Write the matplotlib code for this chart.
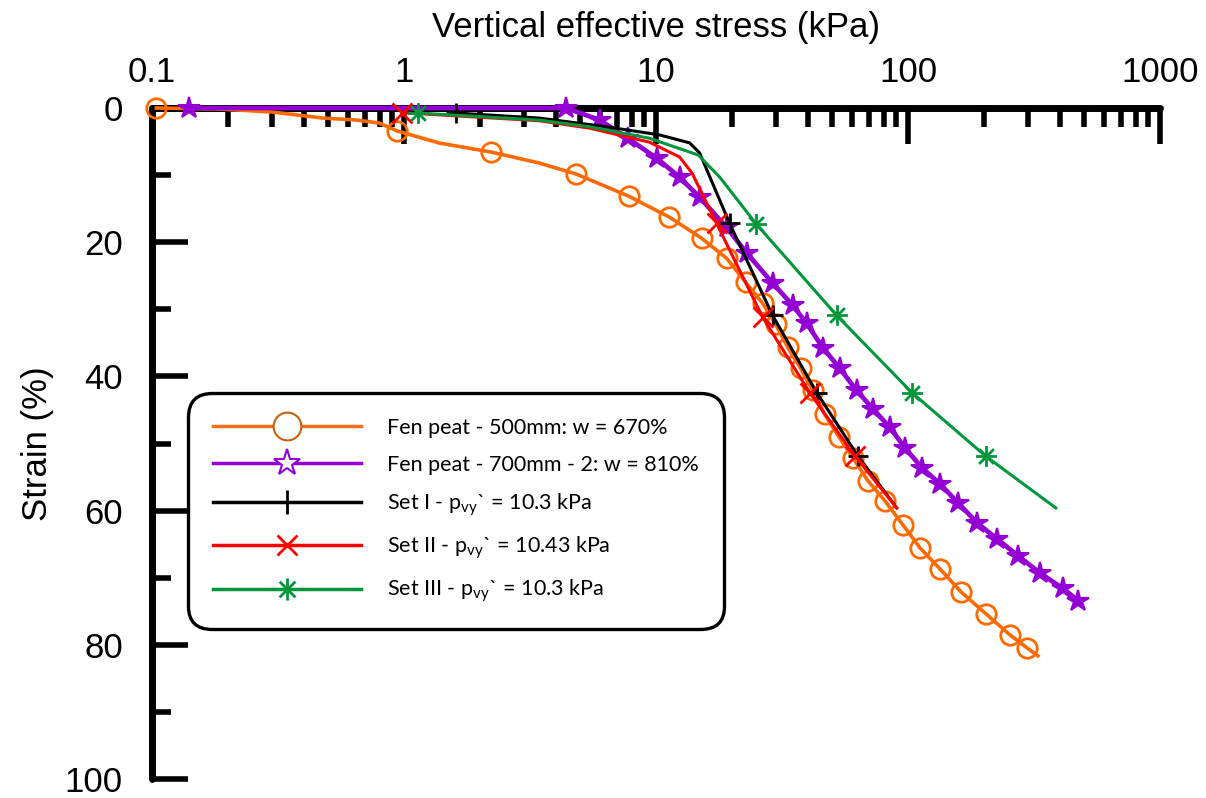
import matplotlib
matplotlib.use("Agg")
import matplotlib.pyplot as plt
from matplotlib.lines import Line2D
from matplotlib.path import Path
from matplotlib.ticker import FixedLocator, NullFormatter

plt.rcParams['font.family'] = ['Liberation Sans', 'DejaVu Sans']
plt.rcParams['mathtext.fontset'] = 'custom'
plt.rcParams['mathtext.rm'] = 'Lato'
plt.rcParams['mathtext.it'] = 'Lato:italic'

# Fen peat - 500mm (w = 670%)
stress_500 = [0.104, 0.185, 0.30, 0.474, 0.646, 0.797, 0.94, 1.38, 2.22, 3.44, 4.83,
              7.78, 11.31, 15.16, 19.05, 22.68, 26.49, 29.83, 33.30, 37.50, 41.83,
              46.70, 53.08, 60.33, 69.20, 80.82, 95.30, 111.4, 133.7, 162.0, 203.6,
              253.6, 296.3, 327.7]
strain_500 = [0, 0.15, 0.6, 1.49, 1.79, 2.24, 3.43, 5.22, 6.57, 8.2, 9.85,
              13.13, 16.27, 19.40, 22.39, 25.97, 29.10, 32.24, 35.67, 38.81, 42.09,
              45.67, 48.96, 52.09, 55.52, 58.51, 62.09, 65.52, 68.66, 72.09, 75.37,
              78.51, 80.45, 81.64]
marks_500 = [0, 6, 8] + list(range(10, 33))

# Fen peat - 700mm - 2 (w = 810%)
stress_700 = [0.140, 0.384, 0.957, 1.99, 3.45, 4.41, 5.97, 7.71, 10.05, 12.40, 14.89,
              19.05, 22.89, 29.03, 34.86, 39.62, 45.86, 53.57, 62.59, 72.44, 84.63,
              97.07, 113.4, 133.7, 157.6, 187.6, 225.2, 272.9, 333.7, 411.9, 472.4]
strain_700 = [0, 0, 0, 0, 0, 0, 1.79, 4.48, 7.46, 10.3, 13.3,
              17.8, 21.6, 26.1, 29.4, 32.1, 35.7, 38.8, 42.1, 44.8, 47.6,
              50.6, 53.6, 56.0, 58.8, 61.8, 64.2, 66.7, 69.3, 71.6, 73.4]
marks_700 = [0] + list(range(5, 31))

# Set I - p_vy' = 10.3 kPa
stress_set1 = [1.61, 3.44, 6.35, 10.3, 13.6, 14.9, 19.6, 29.0, 43.4, 63.1, 90.2]
strain_set1 = [0.75, 1.5, 2.8, 4.0, 5.2, 6.7, 17.2, 30.9, 42.4, 51.8, 59.6]
marks_set1 = [0, 6, 7, 8, 9]

# Set II - p_vy' = 10.43 kPa
stress_set2 = [0.98, 3.44, 5.45, 9.42, 12.4, 13.9, 17.4, 26.5, 40.7, 61.4, 90.2]
strain_set2 = [0.7, 1.9, 3.0, 5.1, 7.3, 9.7, 17.2, 31.2, 42.4, 51.8, 59.6]
marks_set2 = [0, 6, 7, 8, 9]

# Set III - p_vy' = 10.3 kPa
stress_set3 = [1.14, 3.44, 5.45, 9.4, 14.7, 17.9, 25.0, 52.1, 103.5, 203.6, 386.0]
strain_set3 = [0.75, 1.8, 2.8, 4.5, 7.0, 10.3, 17.3, 30.9, 42.4, 51.9, 59.6]
marks_set3 = [0, 6, 7, 8, 9]

labels = ['Fen peat - 500mm: w = 670%',
          'Fen peat - 700mm - 2: w = 810%',
          r'Set I - p$_{\mathrm{vy}}$` = 10.3 kPa',
          r'Set II - p$_{\mathrm{vy}}$` = 10.43 kPa',
          r'Set III - p$_{\mathrm{vy}}$` = 10.3 kPa']

x_ticks = [0.1, 1, 10, 100, 1000]
x_ticklabels = ['0.1', '1', '10', '100', '1000']
y_ticks = [0, 20, 40, 60, 80, 100]

ORANGE = '#FF6A00'
PURPLE = '#9400D3'
RED = '#FF0000'
GREEN = '#00963C'

# asterisk marker: vertical, horizontal and both diagonals
d = 0.7071
ast = Path([(0, -1), (0, 1), (-1, 0), (1, 0), (-d, -d), (d, d), (-d, d), (d, -d)],
           [Path.MOVETO, Path.LINETO] * 4)

fig = plt.figure(figsize=(12.06, 7.98), dpi=100)
ax = fig.add_axes([152 / 1206, 1 - 779 / 798, 1008 / 1206, 671 / 798])

kw = dict(clip_on=False, zorder=3)
ax.plot(stress_500, strain_500, color=ORANGE, lw=2.6, marker='o', ms=14,
        mfc='none', mec=ORANGE, mew=2, markevery=marks_500, **kw)
ax.plot(stress_700, strain_700, color=PURPLE, lw=3.4, marker='*', ms=16,
        mfc=PURPLE, mec=PURPLE, mew=1.5, markevery=marks_700, **kw)
ax.plot(stress_set1, strain_set1, color='black', lw=2.2, marker='+', ms=15,
        mew=2, markevery=marks_set1, **kw)
ax.plot(stress_set2, strain_set2, color=RED, lw=2.2, marker='x', ms=14,
        mew=2, markevery=marks_set2, **kw)
ax.plot(stress_set3, strain_set3, color=GREEN, lw=2.2, marker=ast, ms=15,
        mew=2, markevery=marks_set3, **kw)

ax.set_xscale('log')
ax.set_xlim(0.1, 1000)
ax.set_ylim(100, 0)
ax.xaxis.tick_top()
ax.xaxis.set_label_position('top')

ax.set_xticks(x_ticks)
ax.set_xticklabels(x_ticklabels)
minor_x = [m * 10.0 ** e for e in range(-1, 3) for m in range(2, 10)]
ax.xaxis.set_minor_locator(FixedLocator(minor_x))
ax.xaxis.set_minor_formatter(NullFormatter())
ax.set_yticks(y_ticks)
ax.yaxis.set_minor_locator(FixedLocator([10, 30, 50, 70, 90]))

for side in ['right', 'bottom']:
    ax.spines[side].set_visible(False)
for side in ['left', 'top']:
    ax.spines[side].set_linewidth(5)
    ax.spines[side].set_capstyle('round')

ax.tick_params(axis='both', which='both', direction='in', width=4, labelsize=25)
ax.tick_params(axis='y', which='major', length=26, pad=21)
ax.tick_params(axis='y', which='minor', length=14)
ax.tick_params(axis='x', which='major', length=26, pad=14)
ax.tick_params(axis='x', which='minor', length=14)

ax.set_xlabel('Vertical effective stress (kPa)', fontsize=25, labelpad=13)
ax.set_ylabel('Strain (%)', fontsize=25, labelpad=8)

handles = [
    Line2D([], [], color='#F07020', lw=2.5, marker='o', ms=20, mfc='white',
           mec='#C8600F', mew=1.5),
    Line2D([], [], color=PURPLE, lw=2.5, marker='*', ms=20, mfc='white',
           mec=PURPLE, mew=1.5),
    Line2D([], [], color='black', lw=2.5, marker='+', ms=17, mew=2),
    Line2D([], [], color=RED, lw=2.5, marker='x', ms=15, mew=2),
    Line2D([], [], color=GREEN, lw=2.5, marker=ast, ms=16, mew=2),
]
leg = ax.legend(handles, labels, loc='upper left',
                bbox_to_anchor=(188 / 1206, 1 - 393 / 798),
                bbox_transform=fig.transFigure, borderaxespad=0,
                prop={'family': 'Lato', 'size': 15.5}, handlelength=6.9,
                handletextpad=1.2, borderpad=1.15, labelspacing=0.78,
                frameon=True, fancybox=True, framealpha=1)
frame = leg.get_frame()
frame.set_edgecolor('black')
frame.set_linewidth(2.4)
frame.set_boxstyle('round', pad=0, rounding_size=1.1)
leg.set_zorder(5)

fig.savefig('out.png', dpi=100, facecolor='white')
